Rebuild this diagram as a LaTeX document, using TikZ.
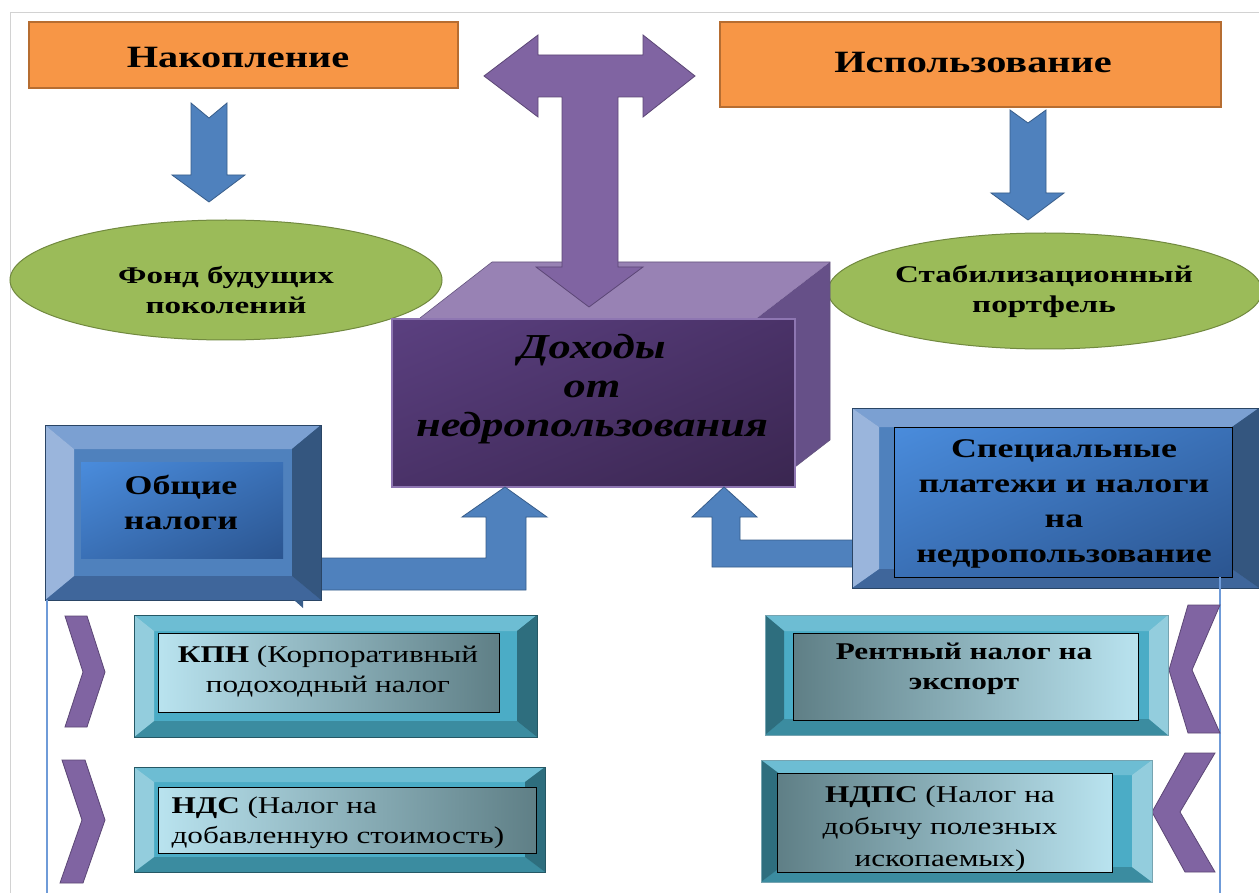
\documentclass[tikz,border=0pt]{standalone}
\usepackage{fontspec}
\usetikzlibrary{shadings}
\setmainfont{Liberation Serif}
\newfontfamily\wideT[FakeStretch=1.3]{Liberation Serif}
\newfontfamily\wideE[FakeStretch=1.38]{Liberation Serif}
\newfontfamily\wideC[FakeStretch=1.27]{Liberation Serif}
\newfontfamily\wideB[FakeStretch=1.33]{Liberation Serif}
\newfontfamily\wideS[FakeStretch=1.3]{Liberation Serif}
\definecolor{orF}{HTML}{F79646}\definecolor{orD}{HTML}{B66D31}
\definecolor{blA}{HTML}{4F81BD}\definecolor{blD}{HTML}{385D8A}
\definecolor{grF}{HTML}{9BBB59}\definecolor{grD}{HTML}{71893F}
\definecolor{puF}{HTML}{8064A2}\definecolor{puD}{HTML}{5C4776}
\definecolor{cubeTop}{HTML}{9882B4}\definecolor{cubeRight}{HTML}{665088}
\definecolor{cubeA}{HTML}{5B4080}\definecolor{cubeB}{HTML}{3A2650}\definecolor{cubeEdge}{HTML}{8E76B2}
\definecolor{cubeM}{HTML}{4A3268}
\definecolor{blface}{HTML}{4F81BD}\definecolor{bltop}{HTML}{7BA0D2}\definecolor{blleft}{HTML}{9AB5DC}
\definecolor{blright}{HTML}{34567F}\definecolor{blbot}{HTML}{3F669B}
\definecolor{tlface}{HTML}{4BACC6}\definecolor{tltop}{HTML}{6DBDD3}\definecolor{tlleft}{HTML}{93CDDD}
\definecolor{tlright}{HTML}{2E6E7E}\definecolor{tlbot}{HTML}{3B8CA0}
\definecolor{trface}{HTML}{4BACC6}\definecolor{trtop}{HTML}{6DBDD3}\definecolor{trleft}{HTML}{2E6E7E}
\definecolor{trright}{HTML}{93CDDD}\definecolor{trbot}{HTML}{3B8CA0}
\definecolor{inL}{HTML}{B9E3EF}\definecolor{inD}{HTML}{5F7F86}
\definecolor{ibL}{HTML}{4A8CDC}\definecolor{ibD}{HTML}{2B5590}\definecolor{ibM}{HTML}{3A70B6}
\definecolor{lineB}{HTML}{6F9BD8}
% bevel box: x1 y1 x2 y2 bx by colour-prefix
\newcommand\bevelbox[7]{%
  \fill[#7face] (#1,#2) rectangle (#3,#4);
  \fill[#7top] (#1,#2) -- (#3,#2) -- (#3-#5,#2+#6) -- (#1+#5,#2+#6) -- cycle;
  \fill[#7bot] (#1,#4) -- (#3,#4) -- (#3-#5,#4-#6) -- (#1+#5,#4-#6) -- cycle;
  \fill[#7left] (#1,#2) -- (#1+#5,#2+#6) -- (#1+#5,#4-#6) -- (#1,#4) -- cycle;
  \fill[#7right] (#3,#2) -- (#3-#5,#2+#6) -- (#3-#5,#4-#6) -- (#3,#4) -- cycle;
  \draw[#7right!80!black, line width=0.8] (#1,#2) rectangle (#3,#4);
}
\tikzset{
  ttl/.style={font=\wideT\fontsize{31}{33}\selectfont\bfseries, text=black},
  elltxt/.style={font=\wideE\fontsize{24}{30}\selectfont\bfseries, align=center, text=black},
  cubetxt/.style={font=\wideC\fontsize{35}{39}\selectfont\bfseries\itshape, align=center, text=black},
  bigtxt/.style={font=\wideB\fontsize{27}{35}\selectfont\bfseries, align=center, text=black},
  smalltxt/.style={font=\wideS\fontsize{24}{30}\selectfont, align=center, text=black},
  blockarrow/.style={fill=blA, draw=blD, line width=0.8, line join=miter},
  purparrow/.style={fill=puF, draw=puD, line width=0.8, line join=miter},
  orbox/.style={fill=orF, draw=orD, line width=1.2},
  ell/.style={fill=grF, draw=grD, line width=1},
}
\begin{document}
\begin{tikzpicture}[x=1pt,y=-1pt]
\useasboundingbox (0,0) rectangle (1259,893);
\fill[white] (0,0) rectangle (1259,893);
% frame lines
\draw[gray!35, line width=1] (10,893) -- (10,13) -- (1259,13);

% orange boxes
\draw[orbox] (29,22) rectangle (458,88);
\node[ttl] (nak) at (238,58) {Накопление};
\draw[orbox] (720,22) rectangle (1221,107);
\node[ttl] (isp) at (973,63) {Использование};

% small down arrows
\draw[blockarrow] (191,103) -- (209,118) -- (227,103) -- (227,175) -- (245,175) -- (209,202) -- (172,175) -- (191,175) -- cycle;
\draw[blockarrow] (1010,110) -- (1028,123) -- (1046,110) -- (1046,193) -- (1064,193) -- (1028,220) -- (991,193) -- (1010,193) -- cycle;

% ellipses
\draw[ell] (226,280) ellipse [x radius=216, y radius=60];
\node[elltxt] (fond) at (226,290) {Фонд будущих\\поколений};
\draw[ell] (1045,291) ellipse [x radius=217, y radius=58];
\node[elltxt] (stab) at (1044,291) {Стабилизационный\\портфель};

% cube
\fill[cubeTop] (420,318) -- (492,262) -- (830,262) -- (757,318) -- cycle;
\fill[cubeRight] (757,318) -- (830,262) -- (830,440) -- (795,467) -- (757,467) -- cycle;
\draw[cubeEdge!70!black, line width=0.6] (420,318) -- (492,262) -- (830,262) -- (830,440) -- (795,467);
\shade[upper left=cubeA, lower left=cubeM, upper right=cubeM, lower right=cubeB] (392,319) rectangle (795,487);
\draw[cubeEdge, line width=1.5] (392,319) rectangle (795,487);
% T arrow
\draw[purparrow] (484,76) -- (538,35) -- (538,55) -- (643,55) -- (643,35) -- (695,76) -- (643,117) -- (643,97) -- (618,97) -- (618,267) -- (643,267) -- (589,307) -- (536,267) -- (562,267) -- (562,97) -- (538,97) -- (538,117) -- cycle;
\node[cubetxt] (doh) at (592,389) {Доходы\\от\\недропользования};

% bent arrows
\draw[blockarrow] (300,558) -- (486,558) -- (486,517) -- (462,517) -- (505,487) -- (547,517) -- (526,517) -- (526,590) -- (300,590) -- cycle;
\draw[blockarrow] (870,540) -- (740,540) -- (740,517) -- (757,517) -- (724,487) -- (692,517) -- (712,517) -- (712,567) -- (870,567) -- cycle;

% general taxes box
\bevelbox{45}{425}{321}{600}{29}{24}{bl}
\shade[upper left=ibL, lower right=ibD, upper right=ibM, lower left=ibM] (81,462) rectangle (283,558);
\fill[blD] (294,600) -- (303,600) -- (303,608) -- cycle;
\node[bigtxt] (obsh) at (181,502) {Общие\\налоги};

% special box
\bevelbox{852}{408}{1259}{588}{27}{19}{bl}
\shade[upper left=ibL, lower right=ibD, upper right=ibM, lower left=ibM] (894,427) rectangle (1232,577);
\draw[black, line width=0.8] (894,427) rectangle (1232,577);
\node[bigtxt] (spec) at (1064,504) {Специальные\\платежи и налоги\\на\\недропользование};

% thin blue lines
\draw[lineB, line width=1.5] (47,600) -- (47,893);
\draw[lineB, line width=1.5] (1220,577) -- (1220,893);

% chevrons left
\draw[purparrow] (65,616) -- (87,616) -- (105,672) -- (87,727) -- (65,727) -- (83,672) -- cycle;
\draw[purparrow] (62,760) -- (85,760) -- (105,820) -- (83,883) -- (60,883) -- (82,820) -- cycle;
% chevrons right
\draw[purparrow] (1188,605) -- (1220,605) -- (1192,670) -- (1220,733) -- (1188,733) -- (1169,670) -- cycle;
\draw[purparrow] (1185,753) -- (1215,753) -- (1180,812) -- (1215,872) -- (1185,872) -- (1152,812) -- cycle;

% KPN
\bevelbox{134}{615}{537}{737}{20}{16}{tl}
\shade[left color=inL, right color=inD] (158,633) rectangle (499,712);
\draw[black, line width=0.8] (158,633) rectangle (499,712);
\node[smalltxt] (kpn) at (328,671) {\textbf{КПН} (Корпоративный\\подоходный налог};

% NDS
\bevelbox{134}{767}{545}{872}{20}{15}{tl}
\shade[left color=inL, right color=inD] (158,787) rectangle (536,853);
\draw[black, line width=0.8] (158,787) rectangle (536,853);
\node[smalltxt, align=left, anchor=west] (nds) at (168,823) {\textbf{НДС} (Налог на\\добавленную стоимость)};

% Rent
\bevelbox{765}{615}{1168}{735}{19}{16}{tr}
\shade[left color=inD, right color=inL] (793,633) rectangle (1138,720);
\draw[black, line width=0.8] (793,633) rectangle (1138,720);
\node[smalltxt, font=\wideS\fontsize{24}{30}\selectfont\bfseries] (rent) at (964,669) {Рентный налог на\\экспорт};

% NDPS
\bevelbox{761}{760}{1152}{882}{20}{15}{tr}
\shade[left color=inD, right color=inL] (777,773) rectangle (1112,872);
\draw[black, line width=0.8] (777,773) rectangle (1112,872);
\node[smalltxt, font=\wideS\fontsize{24}{32}\selectfont] (ndps) at (940,829) {\textbf{НДПС} (Налог на\\добычу полезных\\ископаемых)};
\end{tikzpicture}
\end{document}
